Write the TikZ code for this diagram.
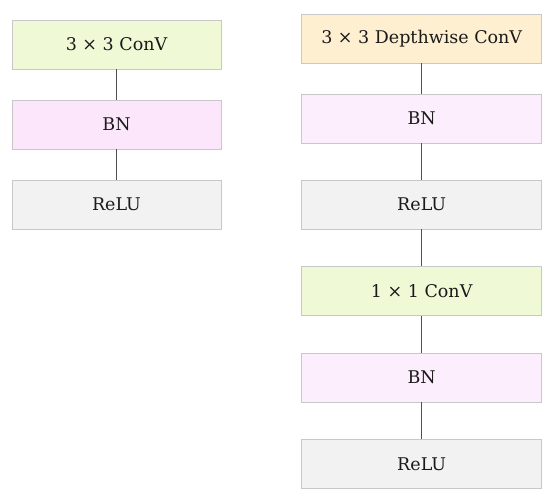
\documentclass[tikz,border=0pt]{standalone}
\usepackage{fontspec}
\setmainfont{DejaVu Serif}
\definecolor{cgreen}{HTML}{EFF9D6}
\definecolor{cpink}{HTML}{FCE6FB}
\definecolor{cpinkr}{HTML}{FCEEFC}
\definecolor{cgray}{HTML}{F2F2F2}
\definecolor{cyell}{HTML}{FDEFCF}
\definecolor{cedge}{HTML}{C8C8C8}
\definecolor{cline}{HTML}{505050}
\definecolor{ctext}{HTML}{1A1A1A}
\begin{document}
\begin{tikzpicture}[x=1pt,y=-1pt,
  blockl/.style={draw=cedge,line width=0.8pt,minimum width=209pt,minimum height=49pt,inner sep=0pt,text=ctext,font=\fontsize{17.5}{20}\selectfont},
  blockr/.style={blockl,minimum width=240pt},
  link/.style={draw=cline,line width=0.8pt}]
\useasboundingbox[fill=white] (0,0) rectangle (550,496);
\node[blockl,fill=cgreen] (l1) at (116.5,44.5) {3 × 3 ConV};
\node[blockl,fill=cpink] (l2) at (116.5,124.5) {BN};
\node[blockl,fill=cgray] (l3) at (116.5,204.5) {ReLU};
\node[blockr,fill=cyell] (r1) at (421.7,38.5) {3 × 3 Depthwise ConV};
\node[blockr,fill=cpinkr] (r2) at (421.7,118.5) {BN};
\node[blockr,fill=cgray] (r3) at (421.7,204.5) {ReLU};
\node[blockr,fill=cgreen] (r4) at (421.7,291.2) {1 × 1 ConV};
\node[blockr,fill=cpinkr] (r5) at (421.7,377.4) {BN};
\node[blockr,fill=cgray] (r6) at (421.7,463.8) {ReLU};
\draw[link] (l1) -- (l2);
\draw[link] (l2) -- (l3);
\draw[link] (r1) -- (r2);
\draw[link] (r2) -- (r3);
\draw[link] (r3) -- (r4);
\draw[link] (r4) -- (r5);
\draw[link] (r5) -- (r6);
\end{tikzpicture}
\end{document}
